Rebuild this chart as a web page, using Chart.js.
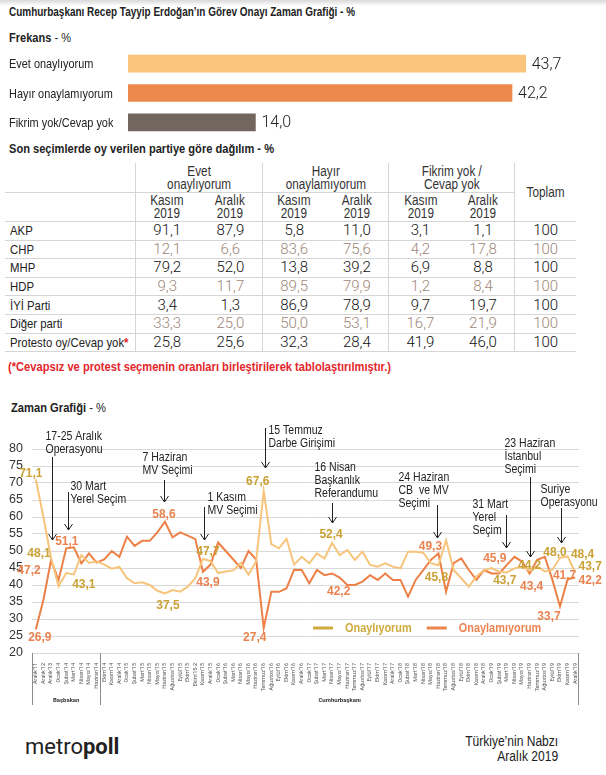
<!DOCTYPE html>
<html lang="tr">
<head>
<meta charset="utf-8">
<script src="https://cdn.jsdelivr.net/npm/chart.js@4.4.1/dist/chart.umd.min.js"></script>
<style>
  body { margin: 0; background: #fff; }
  #page { position: relative; width: 606px; height: 775px; overflow: hidden;
          font-family: "Liberation Sans", Arial, sans-serif; color: #222; }
  .shade { position: absolute; left: 0; top: 0; width: 606px; height: 6px; background: linear-gradient(#d9d9d9, #fff); }
  .t { position: absolute; left: 9px; font-weight: bold; font-size: 13px; line-height: 15px; white-space: nowrap; transform-origin: left center; }
  .t span { font-weight: normal; }
  .note { position: absolute; left: 8px; top: 360px; color: #e3262b; font-weight: bold; font-size: 12.5px; line-height: 15px; white-space: nowrap; transform-origin: left center; }
  #barWrap { position: absolute; left: 0; top: 49px; width: 606px; height: 88px; }
  #lineWrap { position: absolute; left: 0; top: 420px; width: 606px; height: 290px; }
  #tbl { position: absolute; left: 5px; top: 163px; border-collapse: collapse; table-layout: fixed; width: 571px; }
  #tbl td { padding: 0; text-align: center; color: #333; font-size: 14px; line-height: 13px; white-space: nowrap; }
  #tbl td.b { border-bottom: 1px solid #d6d6d6; }
  #tbl td.gl { border-left: 1px solid #d6d6d6; }
  #tbl td.lab { text-align: left; padding-left: 5px; font-size: 13.5px; color: #222; }
  #tbl tr.r1 td { height: 29px; }
  #tbl tr.r2 td { height: 28px; }
  #tbl tr.rd td { height: 17.6px; }
  #tbl td.num { font-family: Roboto, "Liberation Sans", sans-serif; font-weight: 300; font-size: 15px; color: #111; }
  #tbl tr.alt td.num { color: #9e8779; }
  .nar { display: inline-block; transform: scaleX(0.84); transform-origin: center; }
  td.lab .nar { transform-origin: left center; }
  .star { color: #e3262b; font-weight: bold; }
  .logo { position: absolute; left: 25px; top: 734px; font-family: Roboto, "Liberation Sans", sans-serif; font-size: 22px; color: #222; }
  .src { position: absolute; right: 48px; top: 734px; text-align: right; font-size: 14px; line-height: 15px; color: #222; white-space: nowrap; transform-origin: right center; }
</style>
</head>
<body>
<div id="page">
  <div class="shade"></div>
  <div class="t" data-w="346" style="top:4px">Cumhurbaşkanı Recep Tayyip Erdoğan’ın Görev Onayı Zaman Grafiği - %</div>
  <div class="t" data-w="62" style="top:30px">Frekans <span>- %</span></div>
  <div id="barWrap"><canvas id="bar"></canvas></div>
  <div class="t" data-w="265" style="top:141px">Son seçimlerde oy verilen partiye göre dağılım - %</div>
  <table id="tbl"></table>
  <div class="note" data-w="383">(*Cevapsız ve protest seçmenin oranları birleştirilerek tablolaştırılmıştır.)</div>
  <div class="t" data-w="95" style="top:400px; left:11px">Zaman Grafiği <span>- %</span></div>
  <div id="lineWrap"><canvas id="line"></canvas></div>
  <div class="logo">metro<b>poll</b></div>
  <div class="src" data-w="93">Türkiye’nin Nabzı<br>Aralık 2019</div>
</div>
<script>
// ---- data ----
const freqLabels = ['Evet onaylıyorum', 'Hayır onaylamıyorum', 'Fikrim yok/Cevap yok'];
const freqValues = [43.7, 42.2, 14.0];

const groups = ['Evet<br>onaylıyorum', 'Hayır<br>onaylamıyorum', 'Fikrim yok /<br>Cevap yok'];
const periods = ['Kasım<br>2019', 'Aralık<br>2019'];
const parties = ['AKP', 'CHP', 'MHP', 'HDP', 'İYİ Parti', 'Diğer parti', 'Protesto oy/Cevap yok*'];
const evetKasim   = [91.1, 12.1, 79.2, 9.3, 3.4, 33.3, 25.8];
const evetAralik  = [87.9, 6.6, 52.0, 11.7, 1.3, 25.0, 25.6];
const hayirKasim  = [5.8, 83.6, 13.8, 89.5, 86.9, 50.0, 32.3];
const hayirAralik = [11.0, 75.6, 39.2, 79.9, 78.9, 53.1, 28.4];
const fikrimKasim = [3.1, 4.2, 6.9, 1.2, 9.7, 16.7, 41.9];
const fikrimAralik = [1.1, 17.8, 8.8, 8.4, 19.7, 21.9, 46.0];
const toplam = [100, 100, 100, 100, 100, 100, 100];

const months = [
  "Aralık'11", "Aralık'12", "Aralık'13", "Ocak'14", "Şubat'14", "Mart'14", "Nisan'14", "Mayıs'14", "Haziran'14",
  "Ekim'14", "Kasım'14", "Aralık'14", "Ocak'15", "Şubat'15", "Mart'15", "Nisan'15", "Mayıs'15", "Haziran'15",
  "Ağustos'15", "Eylül'15", "Ekim'15", "Ekim'15-2", "Kasım'15", "Aralık'15", "Ocak'16", "Şubat'16", "Mart'16",
  "Nisan'16", "Mayıs'16", "Haziran'16", "Temmuz'16", "Ağustos'16", "Eylül'16", "Ekim'16", "Kasım'16", "Aralık'16",
  "Ocak'17", "Şubat'17", "Mart'17", "Nisan'17", "Mayıs'17", "Haziran'17", "Temmuz'17", "Ağustos'17", "Eylül'17",
  "Ekim'17", "Kasım'17", "Aralık'17", "Ocak'18", "Şubat'18", "Mart'18", "Nisan'18", "Mayıs'18", "Haziran'18",
  "Temmuz'18", "Ağustos'18", "Eylül'18", "Ekim'18", "Kasım'18", "Aralık'18", "Ocak'19", "Şubat'19", "Mart'19",
  "Nisan'19", "Mayıs'19", "Haziran'19", "Temmuz'19", "Ağustos'19", "Eylül'19", "Ekim'19", "Kasım'19", "Aralık'19"
];
const onayliyorum = [
  71.1, 60.0, 48.1, 39.6, 43.5, 43.1, 48.8, 46.5, 47.0,
  46.0, 44.8, 45.3, 42.0, 40.5, 40.8, 40.0, 38.3, 37.5,
  38.5, 38.0, 39.5, 42.0, 47.7, 47.0, 43.5, 44.0, 44.3,
  46.5, 43.0, 47.0, 67.6, 52.0, 50.8, 53.6, 46.0, 48.3,
  46.4, 49.3, 47.8, 52.4, 48.8, 50.3, 47.4, 49.8, 45.9,
  45.4, 46.4, 45.4, 44.9, 49.8, 49.8, 49.5, 46.4, 45.8,
  53.2, 44.4, 42.0, 39.5, 42.5, 44.4, 45.0, 43.9, 43.7,
  44.9, 45.4, 44.2, 45.4, 44.0, 44.5, 48.0, 48.4, 43.7
];
const onaylamiyorum = [
  26.9, 35.6, 47.2, 41.5, 50.8, 51.1, 46.4, 49.3, 46.6,
  47.5, 50.0, 48.3, 54.2, 51.5, 53.0, 53.0, 55.5, 58.6,
  54.0, 55.5, 54.5, 53.5, 43.9, 46.0, 52.5, 50.0, 47.5,
  45.0, 50.0, 47.5, 27.4, 38.0, 38.0, 39.0, 44.5, 44.4,
  40.5, 44.4, 42.9, 43.4, 42.2, 40.0, 40.0, 41.0, 42.9,
  41.5, 43.4, 41.5, 41.5, 36.6, 41.5, 44.4, 47.4, 49.3,
  38.0, 46.4, 47.8, 44.4, 41.5, 44.4, 43.4, 43.4, 45.9,
  48.3, 46.9, 43.4, 47.4, 48.3, 41.5, 33.7, 41.7, 42.2
];
const yTicks = { min: 20, max: 80, step: 5 };

const eventMonths = [2, 4, 17, 22, 30, 39, 53, 62, 65, 69];
const eventTexts = [
  ['17-25 Aralık', 'Operasyonu'], ['30 Mart', 'Yerel Seçim'], ['7 Haziran', 'MV Seçimi'],
  ['1 Kasım', 'MV Seçimi'], ['15 Temmuz', 'Darbe Girişimi'], ['16 Nisan', 'Başkanlık', 'Referandumu'],
  ['24 Haziran', 'CB  ve MV', 'Seçimi'], ['31 Mart', 'Yerel', 'Seçim'], ['23 Haziran', 'İstanbul', 'Seçimi'],
  ['Suriye', 'Operasyonu']
];

// ---- styles ----
const FN = '"Liberation Sans", Arial, sans-serif';
const FR = 'Roboto, "Liberation Sans", sans-serif';
const NARROW = 0.84;
const barColors = ['#f8c57a', '#ee894e', '#73665f'];
const lineColors = ['#f7c47c', '#ec8047'];
const labelColors = ['#c9a136', '#e9834f'];
const fmt = v => v.toFixed(1).replace('.', ',');

// value labels: series, month index, offset from point
const valueLabels = [
  [0, 0, -5, -6], [0, 2, -12, -4], [0, 5, 10, 10], [0, 17, 3, 12], [0, 22, 5, -7], [0, 30, -6, -10],
  [0, 39, -1, -8], [0, 53, -2, 12], [0, 62, -2, 8], [0, 65, 0, -5], [0, 69, -5, -5], [0, 70, 15, -2], [0, 71, 15, -6],
  [1, 2, -22, 10], [1, 0, 4, 8], [1, 5, -7, -6], [1, 17, -1, -7], [1, 22, 5, 11], [1, 30, -9, 10],
  [1, 40, -1, 14], [1, 53, -8, -7], [1, 62, -12, -7], [1, 65, 2, 13], [1, 69, -11, 10], [1, 70, -3, -4], [1, 71, 15, 3]
];
// event layout: arrow dx, text dx, text first line y, arrow top y, arrow tip y (relative to chart top)
const eventLayout = [
  [1, -7, -12, 8, 91], [2, 2, 38, 43, 81], [-1, -22, 9, 31, 53], [1, 3, 49, 58, 91], [1, 3, -18, -21, 19],
  [0, -18, 19, 54, 74], [-1, -39, 29, 56, 89], [-1, -34, 56, 66, 99], [0, -26, -5, 28, 108], [1, -21, 41, 59, 94]
];

function narrowText(ctx, text, x, y, sx) {
  ctx.save();
  ctx.translate(x, y);
  ctx.scale(sx, 1);
  ctx.fillText(text, 0, 0);
  ctx.restore();
}

// ---- table ----
const cols = [evetKasim, evetAralik, hayirKasim, hayirAralik, fikrimKasim, fikrimAralik];
const nar = s => '<span class="nar">' + s + '</span>';
let html = '<colgroup><col style="width:130px">' +
  [63.5, 63.5, 63, 63, 63, 63, 61].map(w => '<col style="width:' + w + 'px">').join('') + '</colgroup>';
html += '<tr class="r1"><td class="lab b"></td>' +
  groups.map(g => '<td colspan="2" class="gl b">' + nar(g) + '</td>').join('') +
  '<td rowspan="2" class="gl b">' + nar('Toplam') + '</td></tr>';
html += '<tr class="r2"><td class="lab b"></td>' +
  groups.map(() => periods.map((p, k) => '<td class="b' + (k === 0 ? ' gl' : '') + '">' + nar(p) + '</td>').join('')).join('') + '</tr>';
parties.forEach((p, r) => {
  const name = p.endsWith('*') ? p.slice(0, -1) + '<span class="star">*</span>' : p;
  html += '<tr class="rd' + (r % 2 ? ' alt' : '') + '"><td class="lab b">' + nar(name) + '</td>' +
    cols.map((c, j) => '<td class="num b' + (j % 2 === 0 ? ' gl' : '') + '">' + fmt(c[r]) + '</td>').join('') +
    '<td class="num b gl">' + toplam[r] + '</td></tr>';
});
document.getElementById('tbl').innerHTML = html;

// squeeze headings to the condensed widths of the original
document.querySelectorAll('[data-w]').forEach(el => {
  const w = el.getBoundingClientRect().width;
  el.style.transform = 'scaleX(' + (+el.dataset.w / w) + ')';
});

// ---- frequency bars ----
const barText = {
  id: 'barText',
  afterDatasetsDraw(chart) {
    const ctx = chart.ctx;
    const yScale = chart.scales.y;
    ctx.save();
    ctx.textBaseline = 'middle';
    ctx.fillStyle = '#222';
    ctx.font = '13px ' + FN;
    freqLabels.forEach((lab, i) => narrowText(ctx, lab, 9, yScale.getPixelForTick(i) + 1, NARROW));
    ctx.font = '300 16px ' + FR;
    chart.getDatasetMeta(0).data.forEach((bar, i) => {
      ctx.fillText(fmt(freqValues[i]), bar.x + 6, bar.y + 1);
    });
    ctx.restore();
  }
};

new Chart(document.getElementById('bar'), {
  type: 'bar',
  data: { labels: freqLabels, datasets: [{ data: freqValues, backgroundColor: barColors, barThickness: 17 }] },
  options: {
    indexAxis: 'y', animation: false, responsive: true, maintainAspectRatio: false,
    layout: { padding: { left: 9, right: 23, top: 0, bottom: 0 } },
    plugins: { legend: { display: false }, tooltip: { enabled: false } },
    scales: {
      x: { display: false, min: 0, max: 50 },
      y: {
        grid: { display: false }, border: { display: false },
        ticks: { display: false },
        afterFit(s) { s.width = 119; }
      }
    }
  },
  plugins: [barText]
});

// ---- time chart ----
const lineExtras = {
  id: 'lineExtras',
  afterDraw(chart) {
    const { ctx, chartArea: a, scales: { x, y } } = chart;
    ctx.save();

    // category frame under the axis
    const sep = (x.getPixelForValue(8) + x.getPixelForValue(9)) / 2;
    ctx.strokeStyle = '#8c8c8c';
    ctx.lineWidth = 1;
    ctx.beginPath();
    [a.left + 0.5, Math.round(sep) + 0.5, a.right - 0.5].forEach(px => {
      ctx.moveTo(px, a.bottom); ctx.lineTo(px, a.bottom + 52);
    });
    ctx.stroke();
    ctx.fillStyle = '#333';
    ctx.font = 'bold 6px ' + FR;
    ctx.textAlign = 'center';
    ctx.textBaseline = 'middle';
    ctx.fillText('Başbakan', (a.left + sep) / 2, a.bottom + 47);
    ctx.fillText('Cumhurbaşkanı', (sep + a.right) / 2, a.bottom + 47);

    // legend
    ctx.font = 'bold 13px ' + FN;
    ctx.textAlign = 'left';
    const legendColors = ['#cfaa3e', '#ec8450'];
    let lx = a.left + 281;
    const ly = a.bottom - 25;
    chart.data.datasets.forEach((ds, k) => {
      ctx.fillStyle = legendColors[k];
      ctx.fillRect(lx, ly - 1.5, 20, 3);
      narrowText(ctx, ds.label, lx + 32, ly, NARROW);
      lx += 32 + ctx.measureText(ds.label).width * NARROW + 15;
    });

    // events
    ctx.font = '12.5px ' + FN;
    ctx.fillStyle = '#222';
    ctx.strokeStyle = '#222';
    eventMonths.forEach((m, k) => {
      const [adx, tdx, ty, at, tip] = eventLayout[k];
      const ax = Math.round(x.getPixelForValue(m) + adx) + 0.5;
      eventTexts[k].forEach((line, j) => narrowText(ctx, line, ax + tdx, a.top + ty + j * 13, NARROW));
      ctx.beginPath();
      ctx.moveTo(ax, a.top + at);
      ctx.lineTo(ax, a.top + tip);
      ctx.moveTo(ax - 4, a.top + tip - 6);
      ctx.lineTo(ax, a.top + tip);
      ctx.lineTo(ax + 4, a.top + tip - 6);
      ctx.stroke();
    });

    // value labels
    ctx.font = 'bold 13px ' + FN;
    ctx.textAlign = 'center';
    valueLabels.forEach(([s, i, dx, dy]) => {
      const pt = chart.getDatasetMeta(s).data[i];
      ctx.fillStyle = labelColors[s];
      narrowText(ctx, fmt(chart.data.datasets[s].data[i]), pt.x + dx, pt.y + dy, 0.92);
    });
    ctx.restore();
  }
};

new Chart(document.getElementById('line'), {
  type: 'line',
  data: {
    labels: months,
    datasets: [
      { label: 'Onaylıyorum', data: onayliyorum, borderColor: lineColors[0], borderWidth: 2, pointRadius: 0, tension: 0 },
      { label: 'Onaylamıyorum', data: onaylamiyorum, borderColor: lineColors[1], borderWidth: 2, pointRadius: 0, tension: 0 }
    ]
  },
  options: {
    animation: false, responsive: true, maintainAspectRatio: false,
    layout: { padding: { left: 0, right: 27, top: 29, bottom: 7 } },
    plugins: { legend: { display: false }, tooltip: { enabled: false } },
    scales: {
      x: {
        offset: true,
        grid: { display: false }, border: { display: false },
        ticks: { autoSkip: false, minRotation: 90, maxRotation: 90, padding: 2, color: '#555', font: { family: FR, size: 5.5 } },
        afterFit(s) { s.height = 50; }
      },
      y: {
        min: yTicks.min, max: yTicks.max,
        grid: { color: '#d9d9d9', drawTicks: false }, border: { display: false },
        ticks: { stepSize: yTicks.step, autoSkip: false, padding: 9, color: '#333', font: { family: FN, size: 12.5 } },
        afterFit(s) { s.width = 32; }
      }
    }
  },
  plugins: [lineExtras]
});
</script>
</body>
</html>
